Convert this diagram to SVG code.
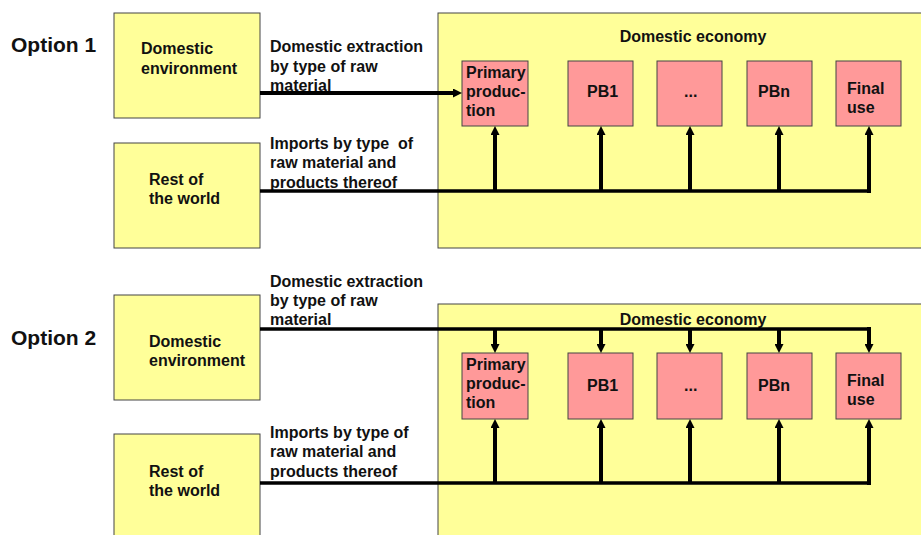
<svg xmlns="http://www.w3.org/2000/svg" width="921" height="535" viewBox="0 0 921 535">
<style>
text{font-family:"Liberation Sans",Arial,sans-serif;font-weight:bold;font-size:16px;fill:#111;white-space:pre}
.opt{font-size:21px}
.y{fill:#FFFF99;stroke:#444;stroke-width:1}
.p{fill:#FF9999;stroke:#444;stroke-width:1}
.c{fill:none;stroke:#000;stroke-width:4;stroke-linejoin:miter}
.h{fill:none;stroke:#000;stroke-width:3.5}
</style>
<defs>
<marker id="ah" viewBox="0 0 10 10" refX="0" refY="5" markerWidth="9" markerHeight="9" markerUnits="userSpaceOnUse" orient="auto">
<path d="M0,0 L10,5 L0,10 z" fill="#000"/>
</marker>
</defs>
<rect width="921" height="535" fill="#fff"/>

<text class="opt" x="11" y="52">Option 1</text>
<text class="opt" x="11" y="345">Option 2</text>

<g id="o1-env"><rect class="y" x="114" y="13" width="146" height="105"/><text x="141" y="54">Domestic</text><text x="141" y="74">environment</text></g>
<g id="o1-row"><rect class="y" x="114" y="143" width="146" height="105"/><text x="149" y="185">Rest of</text><text x="149" y="204">the world</text></g>
<g id="o1-eco"><rect class="y" x="438" y="13" width="490" height="235"/><text x="693" y="42" text-anchor="middle">Domestic economy</text></g>
<g id="o1-prim"><rect class="p" x="462" y="61" width="66" height="65"/><text x="466" y="78">Primary</text><text x="466" y="97">produc-</text><text x="466" y="116">tion</text></g>
<g id="o1-pb1"><rect class="p" x="568" y="61" width="65" height="65"/><text x="587" y="97">PB1</text></g>
<g id="o1-dots"><rect class="p" x="657" y="61" width="65" height="65"/><text x="684" y="97">...</text></g>
<g id="o1-pbn"><rect class="p" x="747" y="61" width="65" height="65"/><text x="758" y="97">PBn</text></g>
<g id="o1-final"><rect class="p" x="836" y="61" width="65" height="65"/><text x="847" y="94">Final</text><text x="847" y="113">use</text></g>

<g id="o2-env"><rect class="y" x="114" y="295" width="146" height="105"/><text x="149" y="347">Domestic</text><text x="149" y="366">environment</text></g>
<g id="o2-row"><rect class="y" x="114" y="434" width="146" height="110"/><text x="149" y="477">Rest of</text><text x="149" y="496">the world</text></g>
<g id="o2-eco"><rect class="y" x="438" y="304" width="490" height="240"/><text x="693" y="325" text-anchor="middle">Domestic economy</text></g>
<g id="o2-prim"><rect class="p" x="462" y="353" width="66" height="66"/><text x="466" y="370">Primary</text><text x="466" y="389">produc-</text><text x="466" y="408">tion</text></g>
<g id="o2-pb1"><rect class="p" x="568" y="353" width="65" height="66"/><text x="587" y="391">PB1</text></g>
<g id="o2-dots"><rect class="p" x="657" y="353" width="65" height="66"/><text x="684" y="391">...</text></g>
<g id="o2-pbn"><rect class="p" x="747" y="353" width="65" height="66"/><text x="758" y="391">PBn</text></g>
<g id="o2-final"><rect class="p" x="836" y="353" width="65" height="66"/><text x="847" y="386">Final</text><text x="847" y="405">use</text></g>

<g id="labels">
<text x="270" y="52">Domestic extraction</text><text x="270" y="72">by type of raw</text><text x="270" y="91">material</text>
<text x="270" y="149">Imports by type  of</text><text x="270" y="168">raw material and</text><text x="270" y="188">products thereof</text>
<text x="270" y="287">Domestic extraction</text><text x="270" y="306">by type of raw</text><text x="270" y="325">material</text>
<text x="270" y="438">Imports by type of</text><text x="270" y="457">raw material and</text><text x="270" y="477">products thereof</text>
</g>

<g id="connectors">
<path class="c" d="M260,93 H453" marker-end="url(#ah)"/>
<path class="h" d="M260,191 H869"/>
<path class="c" d="M869,193 V135" marker-end="url(#ah)"/>
<path class="c" d="M495,191 V135" marker-end="url(#ah)"/>
<path class="c" d="M601,191 V135" marker-end="url(#ah)"/>
<path class="c" d="M690,191 V135" marker-end="url(#ah)"/>
<path class="c" d="M779,191 V135" marker-end="url(#ah)"/>

<path class="h" d="M260,329 H869"/>
<path class="c" d="M869,327 V344" marker-end="url(#ah)"/>
<path class="c" d="M495,329 V344" marker-end="url(#ah)"/>
<path class="c" d="M601,329 V344" marker-end="url(#ah)"/>
<path class="c" d="M690,329 V344" marker-end="url(#ah)"/>
<path class="c" d="M779,329 V344" marker-end="url(#ah)"/>

<path class="h" d="M260,483 H869"/>
<path class="c" d="M869,485 V428" marker-end="url(#ah)"/>
<path class="c" d="M495,483 V428" marker-end="url(#ah)"/>
<path class="c" d="M601,483 V428" marker-end="url(#ah)"/>
<path class="c" d="M690,483 V428" marker-end="url(#ah)"/>
<path class="c" d="M779,483 V428" marker-end="url(#ah)"/>
</g>
</svg>
